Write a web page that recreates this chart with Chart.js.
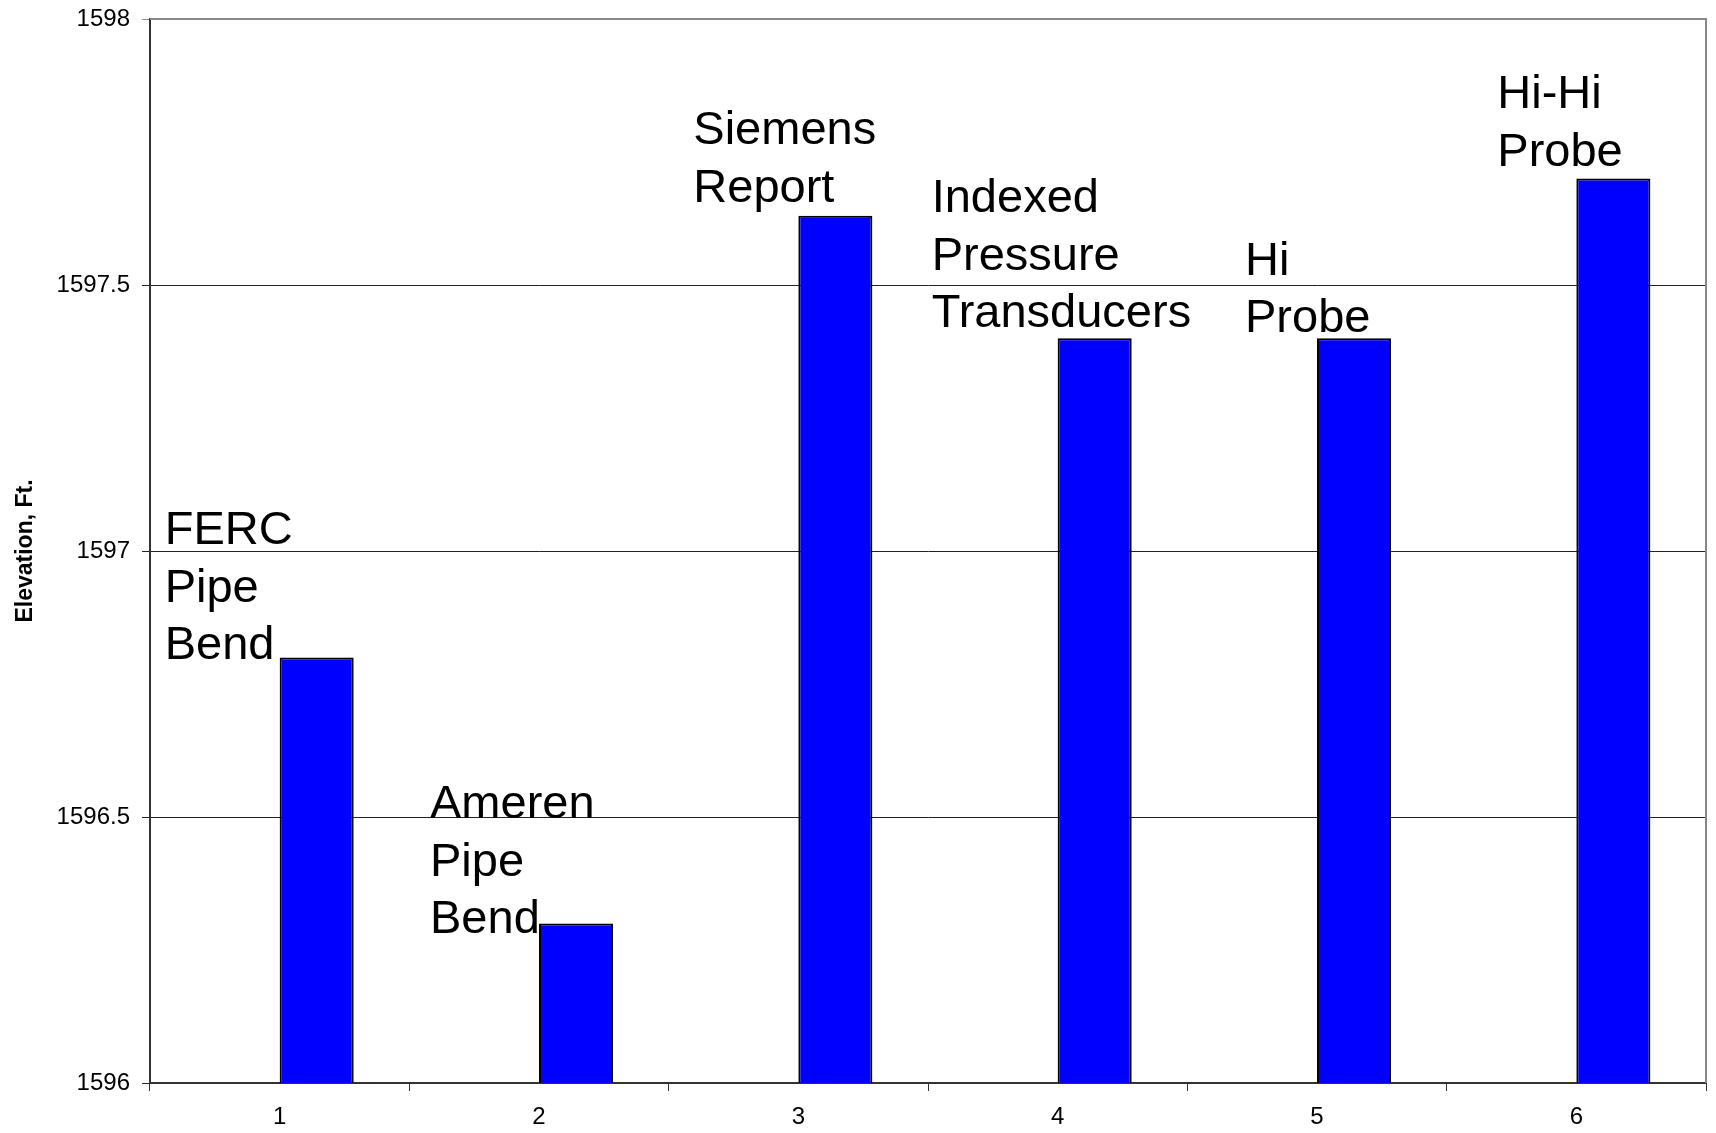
<!DOCTYPE html>
<html lang="en">
<head>
    <meta charset="UTF-8">
    <title>Elevation</title>
    <script src="https://cdn.jsdelivr.net/npm/chart.js@4.4.0/dist/chart.umd.min.js"></script>
    <style>
        body { margin: 0; background: #fff; }
        .wrap { width: 1716px; height: 1133px; position: relative; }
    </style>
</head>
<body>
<div class="wrap">
    <canvas id="barChart"></canvas>
</div>
<script>
    // data
    const categories = ['1', '2', '3', '4', '5', '6'];
    const elevations = [1596.8, 1596.3, 1597.63, 1597.4, 1597.4, 1597.7];
    const sources = [
        ['FERC', 'Pipe', 'Bend'],
        ['Ameren', 'Pipe', 'Bend'],
        ['Siemens', 'Report'],
        ['Indexed', 'Pressure', 'Transducers'],
        ['Hi', 'Probe'],
        ['Hi-Hi', 'Probe']
    ];
    const yTicks = [1596, 1596.5, 1597, 1597.5, 1598];

    // text nudges (px) relative to tick centre / bar top
    const labelDx = [-115, -109, -105, -126, -72, -79];
    const labelDy = [2, 10, -14, -11, -6, -13];

    const FONT = '"Liberation Sans", Arial, sans-serif';

    // labels written beside each bar
    const sourceLabels = {
        id: 'sourceLabels',
        afterDatasetsDraw(chart) {
            const ctx = chart.ctx;
            const xs = chart.scales.x, ys = chart.scales.y;
            ctx.save();
            ctx.font = '47px ' + FONT;
            ctx.fillStyle = '#000';
            ctx.textAlign = 'left';
            ctx.textBaseline = 'alphabetic';
            sources.forEach((lines, i) => {
                const x = xs.getPixelForValue(i) + labelDx[i];
                const base = ys.getPixelForValue(elevations[i]) + labelDy[i];
                lines.forEach((t, j) => {
                    ctx.fillText(t, x, base - (lines.length - 1 - j) * 57.5);
                });
            });
            ctx.restore();
        }
    };

    // grey frame on top and right
    const frame = {
        id: 'frame',
        afterDraw(chart) {
            const a = chart.chartArea, ctx = chart.ctx;
            ctx.save();
            ctx.strokeStyle = '#888';
            ctx.lineWidth = 2;
            ctx.beginPath();
            ctx.moveTo(a.left, a.top);
            ctx.lineTo(a.right, a.top);
            ctx.lineTo(a.right, a.bottom);
            ctx.stroke();
            ctx.restore();
        }
    };

    document.addEventListener('DOMContentLoaded', function() {
        const ctx = document.getElementById('barChart').getContext('2d');
        new Chart(ctx, {
            type: 'bar',
            data: {
                labels: categories,
                datasets: [
                    {
                        label: 'blank',
                        data: categories.map(() => null),
                        backgroundColor: 'rgba(0,0,0,0)'
                    },
                    {
                        label: 'Elevation',
                        data: elevations,
                        backgroundColor: '#0000ff',
                        borderColor: '#000',
                        borderWidth: 2,
                        borderSkipped: 'start'
                    }
                ]
            },
            options: {
                responsive: true,
                maintainAspectRatio: false,
                animation: false,
                categoryPercentage: 0.571,
                barPercentage: 1,
                layout: { padding: { left: 0, top: 19, right: 10, bottom: 0 } },
                plugins: {
                    legend: { display: false },
                    tooltip: { enabled: false }
                },
                scales: {
                    x: {
                        grid: {
                            offset: true,
                            drawOnChartArea: false,
                            tickLength: 8,
                            color: '#333'
                        },
                        border: { color: '#333', width: 2 },
                        ticks: {
                            color: '#000',
                            padding: 12,
                            font: { size: 24, family: FONT }
                        },
                        afterFit(s) { s.height = 50; }
                    },
                    y: {
                        min: 1596,
                        max: 1598,
                        afterBuildTicks(s) { s.ticks = yTicks.map(v => ({ value: v })); },
                        grid: {
                            tickLength: 8,
                            color: ctx => ctx.tick && ctx.tick.value === 1598 ? '#888' : '#222',
                            lineWidth: 1
                        },
                        border: { color: '#333', width: 2 },
                        ticks: {
                            color: '#000',
                            padding: 12,
                            font: { size: 24, family: FONT },
                            callback: v => String(v)
                        },
                        title: {
                            display: true,
                            text: 'Elevation, Ft.',
                            color: '#000',
                            font: { size: 23, weight: 'bold', family: FONT },
                            padding: { top: 12, bottom: 0 }
                        },
                        afterFit(s) {
                            s.width = 150;
                            s.paddingTop = 0;
                            s.paddingBottom = 0;
                        }
                    }
                }
            },
            plugins: [sourceLabels, frame]
        });
    });
</script>
</body>
</html>
